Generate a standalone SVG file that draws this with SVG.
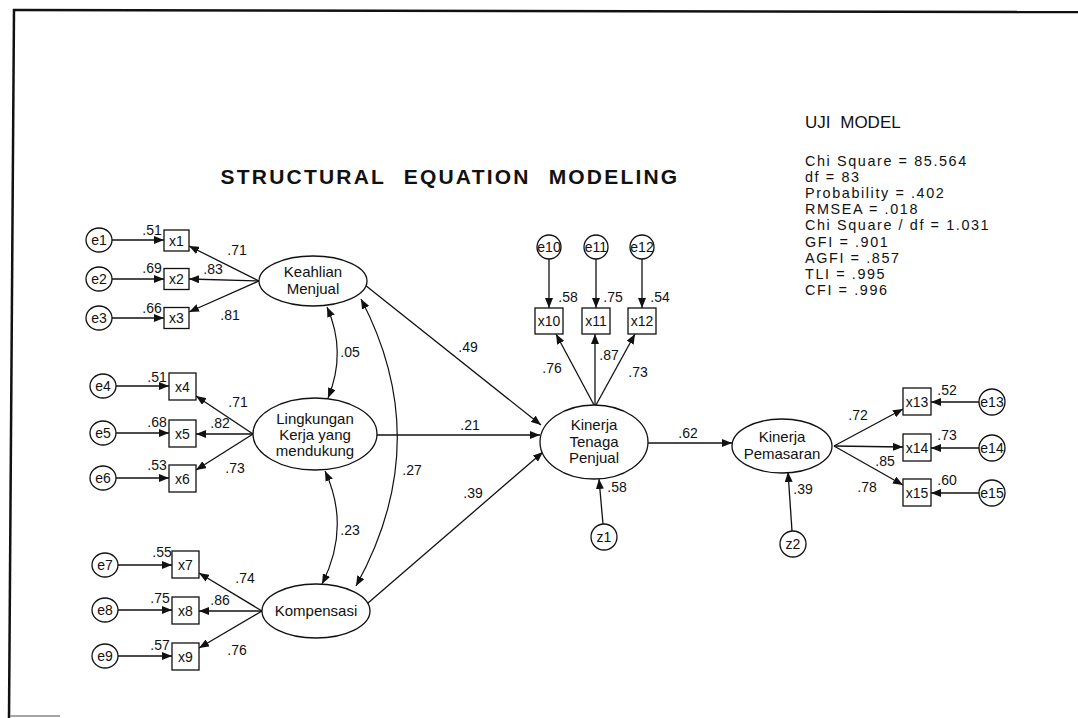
<svg xmlns="http://www.w3.org/2000/svg" width="1078" height="718" viewBox="0 0 1078 718">
<style>
text{font-family:"Liberation Sans",Arial,sans-serif;fill:#111}
.n{font-size:15px;text-anchor:middle}
.s{font-size:14px;text-anchor:middle}
.c{font-size:14px;text-anchor:middle}
.st{font-size:14.4px;letter-spacing:1.6px}
.lat{fill:#fff;stroke:#111;stroke-width:1.3}
.box{fill:#fff;stroke:#111;stroke-width:1.3}
.err{fill:#fff;stroke:#111;stroke-width:1.3}
.ln{fill:none;stroke:#111;stroke-width:1.3;marker-end:url(#ah)}
.cv{fill:none;stroke:#111;stroke-width:1.2;marker-start:url(#ah);marker-end:url(#ah)}
</style>
<defs>
<marker id="ah" viewBox="0 0 10 8" refX="10" refY="4" markerWidth="10" markerHeight="8" markerUnits="userSpaceOnUse" orient="auto-start-reverse"><path d="M0,0 L10,4 L0,8 z" fill="#111"/></marker>
</defs>
<rect width="1078" height="718" fill="#fff"/>
<g id="frame" stroke="#111" fill="none">
<line x1="13" y1="10" x2="1078" y2="12" stroke-width="2.5"/>
<line x1="14" y1="9" x2="9" y2="718" stroke-width="2.5"/>
<line x1="10" y1="716" x2="60" y2="716" stroke="#888" stroke-width="1.5"/>
</g>
<text x="450" y="184" style="font-size:21px;font-weight:bold;text-anchor:middle;letter-spacing:2.2px;word-spacing:10px">STRUCTURAL EQUATION MODELING</text>
<g id="fit">
<text x="805" y="128" style="font-size:17px;word-spacing:5px">UJI MODEL</text>
<text class="st" x="805" y="166">Chi Square = 85.564</text>
<text class="st" x="805" y="182.1">df = 83</text>
<text class="st" x="805" y="198.2">Probability = .402</text>
<text class="st" x="805" y="214.3">RMSEA = .018</text>
<text class="st" x="805" y="230.4">Chi Square / df = 1.031</text>
<text class="st" x="805" y="246.5">GFI = .901</text>
<text class="st" x="805" y="262.6">AGFI = .857</text>
<text class="st" x="805" y="278.7">TLI = .995</text>
<text class="st" x="805" y="294.8">CFI = .996</text>
</g>
<g id="connectors">
<line class="ln" x1="112" y1="240" x2="164" y2="240"/>
<line class="ln" x1="112" y1="279" x2="164" y2="279"/>
<line class="ln" x1="112" y1="318" x2="164" y2="318"/>
<line class="ln" x1="116" y1="386" x2="169" y2="386"/>
<line class="ln" x1="116" y1="433" x2="169" y2="433"/>
<line class="ln" x1="116" y1="478" x2="169" y2="478"/>
<line class="ln" x1="118" y1="565" x2="172" y2="565"/>
<line class="ln" x1="118" y1="610" x2="172" y2="610"/>
<line class="ln" x1="118" y1="656" x2="172" y2="656"/>
<line class="ln" x1="259" y1="281" x2="189" y2="246"/>
<line class="ln" x1="259" y1="281" x2="189" y2="279"/>
<line class="ln" x1="259" y1="281" x2="189" y2="312"/>
<line class="ln" x1="253" y1="434" x2="196" y2="396"/>
<line class="ln" x1="253" y1="434" x2="196" y2="434"/>
<line class="ln" x1="253" y1="434" x2="196" y2="470"/>
<line class="ln" x1="262" y1="611" x2="199" y2="573"/>
<line class="ln" x1="262" y1="611" x2="199" y2="611"/>
<line class="ln" x1="262" y1="611" x2="199" y2="648"/>
<path class="cv" d="M327,307 Q347,352 328,398"/>
<path class="cv" d="M325,471 Q351,527 322,584"/>
<path class="cv" d="M361,299 Q436,442 356,586"/>
<line class="ln" x1="365" y1="285" x2="541" y2="425"/>
<line class="ln" x1="377" y1="435" x2="540" y2="435"/>
<line class="ln" x1="368" y1="603" x2="543" y2="452"/>
<line class="ln" x1="594" y1="405" x2="556" y2="334"/>
<line class="ln" x1="595" y1="405" x2="595" y2="334"/>
<line class="ln" x1="596" y1="405" x2="635" y2="334"/>
<line class="ln" x1="549" y1="259" x2="549" y2="308"/>
<line class="ln" x1="596" y1="259" x2="596" y2="308"/>
<line class="ln" x1="642" y1="259" x2="642" y2="308"/>
<line class="ln" x1="603" y1="524" x2="599" y2="479"/>
<line class="ln" x1="648" y1="443" x2="732" y2="443"/>
<line class="ln" x1="792" y1="531" x2="788" y2="472"/>
<line class="ln" x1="834" y1="446" x2="903" y2="409"/>
<line class="ln" x1="834" y1="446" x2="903" y2="447"/>
<line class="ln" x1="834" y1="446" x2="903" y2="485"/>
<line class="ln" x1="979" y1="402" x2="931" y2="402"/>
<line class="ln" x1="979" y1="448" x2="931" y2="448"/>
<line class="ln" x1="979" y1="493" x2="931" y2="493"/>
</g>
<g id="e1"><ellipse class="err" cx="99" cy="240" rx="13" ry="12"/><text class="c" x="99" y="245">e1</text></g>
<g id="e2"><ellipse class="err" cx="99" cy="279" rx="13" ry="12"/><text class="c" x="99" y="284">e2</text></g>
<g id="e3"><ellipse class="err" cx="99" cy="318" rx="13" ry="12"/><text class="c" x="99" y="323">e3</text></g>
<g id="e4"><ellipse class="err" cx="103" cy="386" rx="13" ry="12"/><text class="c" x="103" y="391">e4</text></g>
<g id="e5"><ellipse class="err" cx="103" cy="433" rx="13" ry="12"/><text class="c" x="103" y="438">e5</text></g>
<g id="e6"><ellipse class="err" cx="103" cy="478" rx="13" ry="12"/><text class="c" x="103" y="483">e6</text></g>
<g id="e7"><ellipse class="err" cx="105" cy="565" rx="13" ry="12"/><text class="c" x="105" y="570">e7</text></g>
<g id="e8"><ellipse class="err" cx="105" cy="610" rx="13" ry="12"/><text class="c" x="105" y="615">e8</text></g>
<g id="e9"><ellipse class="err" cx="105" cy="656" rx="13" ry="12"/><text class="c" x="105" y="661">e9</text></g>
<g id="x1"><rect class="box" x="164" y="230" width="25" height="21"/><text class="c" x="176.5" y="245.5">x1</text></g>
<g id="x2"><rect class="box" x="164" y="268.5" width="25" height="21"/><text class="c" x="176.5" y="284">x2</text></g>
<g id="x3"><rect class="box" x="164" y="307.5" width="25" height="21"/><text class="c" x="176.5" y="323">x3</text></g>
<g id="x4"><rect class="box" x="169" y="373" width="27" height="27"/><text class="c" x="182.5" y="391.5">x4</text></g>
<g id="x5"><rect class="box" x="169" y="420" width="27" height="27"/><text class="c" x="182.5" y="438.5">x5</text></g>
<g id="x6"><rect class="box" x="169" y="465" width="27" height="27"/><text class="c" x="182.5" y="483.5">x6</text></g>
<g id="x7"><rect class="box" x="172" y="551" width="27" height="27"/><text class="c" x="185.5" y="569.5">x7</text></g>
<g id="x8"><rect class="box" x="172" y="597" width="27" height="27"/><text class="c" x="185.5" y="615.5">x8</text></g>
<g id="x9"><rect class="box" x="172" y="643" width="27" height="27"/><text class="c" x="185.5" y="661.5">x9</text></g>
<g id="keahlian"><ellipse class="lat" cx="313" cy="281" rx="54" ry="25"/><text class="n" x="313" y="277">Keahlian</text><text class="n" x="313" y="294">Menjual</text></g>
<g id="lingkungan"><ellipse class="lat" cx="315" cy="434" rx="62" ry="36"/><text class="n" x="315" y="424">Lingkungan</text><text class="n" x="315" y="440">Kerja yang</text><text class="n" x="315" y="456">mendukung</text></g>
<g id="kompensasi"><ellipse class="lat" cx="316" cy="611" rx="54" ry="27"/><text class="n" x="316" y="616">Kompensasi</text></g>
<g id="kinerja_tp"><ellipse class="lat" cx="594" cy="442" rx="54" ry="37"/><text class="n" x="594" y="430">Kinerja</text><text class="n" x="594" y="447">Tenaga</text><text class="n" x="594" y="463">Penjual</text></g>
<g id="pemasaran"><ellipse class="lat" cx="782" cy="446" rx="50" ry="27"/><text class="n" x="782" y="442">Kinerja</text><text class="n" x="782" y="459">Pemasaran</text></g>
<g id="e10"><ellipse class="err" cx="549" cy="247" rx="12" ry="12"/><text class="c" x="549" y="252">e10</text></g>
<g id="e11"><ellipse class="err" cx="596" cy="247" rx="12" ry="12"/><text class="c" x="596" y="252">e11</text></g>
<g id="e12"><ellipse class="err" cx="642" cy="247" rx="12" ry="12"/><text class="c" x="642" y="252">e12</text></g>
<g id="x10"><rect class="box" x="535" y="308" width="28" height="26"/><text class="c" x="549" y="326">x10</text></g>
<g id="x11"><rect class="box" x="582" y="308" width="28" height="26"/><text class="c" x="596" y="326">x11</text></g>
<g id="x12"><rect class="box" x="628" y="308" width="28" height="26"/><text class="c" x="642" y="326">x12</text></g>
<g id="z1"><ellipse class="err" cx="604" cy="537" rx="13" ry="13"/><text class="c" x="604" y="542">z1</text></g>
<g id="z2"><ellipse class="err" cx="793" cy="544" rx="13" ry="13"/><text class="c" x="793" y="549">z2</text></g>
<g id="x13"><rect class="box" x="903" y="388" width="28" height="27"/><text class="c" x="917" y="406.5">x13</text></g>
<g id="x14"><rect class="box" x="903" y="434" width="28" height="27"/><text class="c" x="917" y="452.5">x14</text></g>
<g id="x15"><rect class="box" x="903" y="479" width="28" height="27"/><text class="c" x="917" y="497.5">x15</text></g>
<g id="e13"><ellipse class="err" cx="992" cy="402" rx="13" ry="13"/><text class="c" x="992" y="407">e13</text></g>
<g id="e14"><ellipse class="err" cx="992" cy="448" rx="13" ry="13"/><text class="c" x="992" y="453">e14</text></g>
<g id="e15"><ellipse class="err" cx="992" cy="493" rx="13" ry="13"/><text class="c" x="992" y="498">e15</text></g>
<g id="labels">
<text class="s" x="152" y="235">.51</text>
<text class="s" x="237" y="255">.71</text>
<text class="s" x="152" y="273">.69</text>
<text class="s" x="213" y="274">.83</text>
<text class="s" x="152" y="313">.66</text>
<text class="s" x="230" y="320">.81</text>
<text class="s" x="350" y="357">.05</text>
<text class="s" x="157" y="382">.51</text>
<text class="s" x="238" y="407">.71</text>
<text class="s" x="157" y="427">.68</text>
<text class="s" x="220" y="428">.82</text>
<text class="s" x="157" y="470">.53</text>
<text class="s" x="235" y="473">.73</text>
<text class="s" x="350" y="535">.23</text>
<text class="s" x="162" y="557">.55</text>
<text class="s" x="245" y="583">.74</text>
<text class="s" x="160" y="603">.75</text>
<text class="s" x="220" y="605">.86</text>
<text class="s" x="160" y="650">.57</text>
<text class="s" x="237" y="655">.76</text>
<text class="s" x="468" y="352">.49</text>
<text class="s" x="470" y="430">.21</text>
<text class="s" x="412" y="475">.27</text>
<text class="s" x="473" y="498">.39</text>
<text class="s" x="568" y="302">.58</text>
<text class="s" x="613" y="302">.75</text>
<text class="s" x="660" y="302">.54</text>
<text class="s" x="552" y="373">.76</text>
<text class="s" x="609" y="360">.87</text>
<text class="s" x="638" y="377">.73</text>
<text class="s" x="617" y="492">.58</text>
<text class="s" x="688" y="438">.62</text>
<text class="s" x="858" y="420">.72</text>
<text class="s" x="885" y="466">.85</text>
<text class="s" x="867" y="492">.78</text>
<text class="s" x="803" y="494">.39</text>
<text class="s" x="947" y="395">.52</text>
<text class="s" x="947" y="440">.73</text>
<text class="s" x="947" y="485">.60</text>
</g>
</svg>
